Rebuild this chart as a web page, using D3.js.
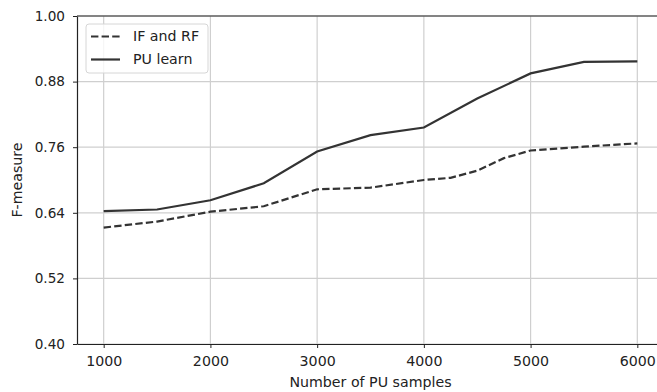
<!DOCTYPE html>
<html>
<head>
<meta charset="utf-8">
<script src="https://cdn.jsdelivr.net/npm/d3@7"></script>
<style>
  body { margin: 0; background: #fff; }
  svg { display: block; font-family: "DejaVu Sans", sans-serif; }
</style>
</head>
<body>
<svg width="657" height="392"></svg>
<script>
// data
const pu_samples = [1000, 1500, 2000, 2500, 3000, 3500, 4000, 4500, 5000, 5500, 6000]
const pu_learn = [0.643, 0.646, 0.663, 0.694, 0.752, 0.782, 0.796, 0.849, 0.895, 0.916, 0.917]

const if_rf_samples = [1000, 1500, 2000, 2500, 3000, 3500, 4000, 4250, 4500, 4750, 5000, 5500, 6000]
const if_rf = [0.613, 0.624, 0.642, 0.652, 0.683, 0.686, 0.700, 0.704, 0.717, 0.740, 0.754, 0.761, 0.767]

const x_ticks = [1000, 2000, 3000, 4000, 5000, 6000]
const y_ticks = [0.40, 0.52, 0.64, 0.76, 0.88, 1.00]

const series_names = ["IF and RF", "PU learn"]

// layout
const plot_left = 77, plot_right = 664, plot_top = 16, plot_bottom = 344
const line_color = "#333"
const font_size = 14.2

const svg = d3.select("svg")

const x = d3.scaleLinear().domain([750, 6250]).range([plot_left, plot_right])
const y = d3.scaleLinear().domain([0.40, 1.00]).range([plot_bottom, plot_top])

// grid
const grid = svg.append("g")
grid.selectAll("line.vx")
    .data(x_ticks)
    .enter()
    .append("line")
    .attr("x1", d => x(d)).attr("x2", d => x(d))
    .attr("y1", plot_top).attr("y2", plot_bottom)
    .attr("stroke", "#cfcfcf")
    .attr("stroke-width", 1.2)
grid.selectAll("line.hy")
    .data(y_ticks)
    .enter()
    .append("line")
    .attr("x1", plot_left).attr("x2", plot_right)
    .attr("y1", d => y(d)).attr("y2", d => y(d))
    .attr("stroke", "#cfcfcf")
    .attr("stroke-width", 1.2)

// lines
const line = d3.line()
    .x(d => x(d[0]))
    .y(d => y(d[1]))

svg.append("path")
    .datum(if_rf_samples.map((s, i) => [s, if_rf[i]]))
    .attr("d", line)
    .attr("fill", "none")
    .attr("stroke", line_color)
    .attr("stroke-width", 2.2)
    .attr("stroke-dasharray", "7.4,3.2")

svg.append("path")
    .datum(pu_samples.map((s, i) => [s, pu_learn[i]]))
    .attr("d", line)
    .attr("fill", "none")
    .attr("stroke", line_color)
    .attr("stroke-width", 2.2)

// axes
const x_axis = svg.append("g")
    .attr("transform", `translate(0,${plot_bottom})`)
    .call(d3.axisBottom(x).tickValues(x_ticks).tickFormat(d3.format("d"))
        .tickSizeInner(4).tickSizeOuter(0).tickPadding(8))
const y_axis = svg.append("g")
    .attr("transform", `translate(${plot_left},0)`)
    .call(d3.axisLeft(y).tickValues(y_ticks).tickFormat(d3.format(".2f"))
        .tickSizeInner(4).tickSizeOuter(0).tickPadding(8))

for (const ax of [x_axis, y_axis]) {
    ax.selectAll("text").attr("font-size", font_size).attr("fill", "#222").attr("font-family", "DejaVu Sans")
    ax.selectAll("line").attr("stroke", "#222")
    ax.select(".domain").attr("stroke", "#222").attr("stroke-width", 1.2)
}
y_axis.selectAll("text").attr("font-size", 13.6)

// top spine (right one is outside the picture)
svg.append("line")
    .attr("x1", plot_left).attr("x2", plot_right)
    .attr("y1", plot_top).attr("y2", plot_top)
    .attr("stroke", "#222")
    .attr("stroke-width", 1.2)

// axis labels
svg.append("text")
    .attr("x", (plot_left + plot_right) / 2)
    .attr("y", 387)
    .attr("text-anchor", "middle")
    .attr("font-size", font_size)
    .attr("fill", "#222")
    .text("Number of PU samples")

svg.append("text")
    .attr("transform", `translate(22,${(plot_top + plot_bottom) / 2}) rotate(-90)`)
    .attr("text-anchor", "middle")
    .attr("font-size", font_size)
    .attr("fill", "#222")
    .text("F-measure")

// legend
const legend = svg.append("g")
legend.append("rect")
    .attr("x", 86).attr("y", 24)
    .attr("width", 122).attr("height", 49)
    .attr("rx", 3)
    .attr("fill", "#fff").attr("fill-opacity", 0.8)
    .attr("stroke", "#d6d6d6")

const legend_y = [36.5, 59.5]
series_names.forEach(function(name, i) {
    legend.append("line")
        .attr("x1", 91).attr("x2", 120)
        .attr("y1", legend_y[i]).attr("y2", legend_y[i])
        .attr("stroke", line_color)
        .attr("stroke-width", 2.2)
        .attr("stroke-dasharray", i === 0 ? "7.4,3.2" : null)
    legend.append("text")
        .attr("x", 133)
        .attr("y", legend_y[i])
        .attr("dy", "0.35em")
        .attr("font-size", font_size)
        .attr("fill", "#222")
        .text(name)
})
</script>
</body>
</html>
